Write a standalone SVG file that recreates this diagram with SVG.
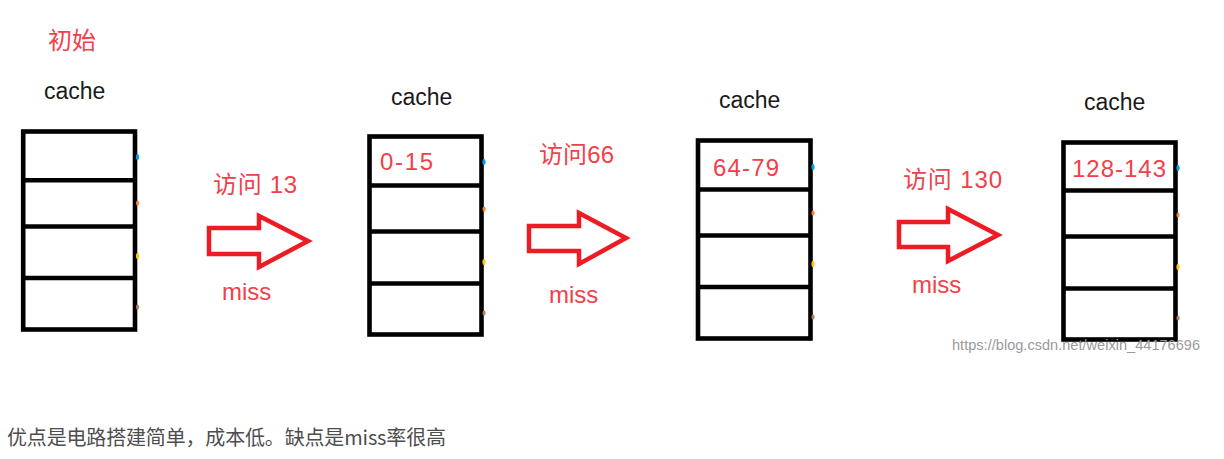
<svg xmlns="http://www.w3.org/2000/svg" width="1224" height="459" viewBox="0 0 1224 459">
<style>
.box{fill:#fff;stroke:#000;stroke-width:4.6}
.div{stroke:#000;stroke-width:4.6}
.lbl{font-family:"Liberation Sans","Noto Sans CJK SC",sans-serif;font-size:23px;fill:#1a1a1a}
.red{font-family:"Liberation Sans","Noto Sans CJK SC",sans-serif;font-size:24px;fill:#f2404a}
.arrow{fill:none;stroke:#ed1c24;stroke-width:4.5;stroke-linejoin:miter}
.wm{font-family:"Liberation Sans",sans-serif;font-size:14.5px;fill:#9a9a9a}
.note{font-family:"Noto Sans CJK SC",sans-serif;font-size:20px;fill:#4d4d4d}
</style>
<rect width="1224" height="459" fill="#fff"/>
<text class="red" x="48" y="49">初始</text>
<g id="cache1">
<text class="lbl" x="44" y="99">cache</text>
<rect class="box" x="23.2" y="131.5" width="111.8" height="198"/>
<line class="div" x1="23" y1="180.3" x2="135" y2="180.3"/>
<line class="div" x1="23" y1="226.5" x2="135" y2="226.5"/>
<line class="div" x1="23" y1="278" x2="135" y2="278"/>
<ellipse cx="137.5" cy="157" rx="1.6" ry="3" fill="#00a2e8"/>
<ellipse cx="137.5" cy="203" rx="1.6" ry="2.5" fill="#ff7f27"/>
<ellipse cx="137.5" cy="256" rx="1.6" ry="3" fill="#ffc90e"/>
<ellipse cx="137.5" cy="307" rx="1.6" ry="2.5" fill="#b97a57"/>
</g>
<g id="cache2">
<text class="lbl" x="391" y="105">cache</text>
<rect class="box" x="369.5" y="136.5" width="112" height="198"/>
<line class="div" x1="369" y1="185.5" x2="482" y2="185.5"/>
<line class="div" x1="369" y1="231.5" x2="482" y2="231.5"/>
<line class="div" x1="369" y1="283.5" x2="482" y2="283.5"/>
<text class="red" x="380" y="170" textLength="53">0-15</text>
<ellipse cx="484" cy="162" rx="1.6" ry="3" fill="#00a2e8"/>
<ellipse cx="484" cy="209" rx="1.6" ry="2.5" fill="#ff7f27"/>
<ellipse cx="484" cy="262" rx="1.6" ry="3" fill="#ffc90e"/>
<ellipse cx="484" cy="313" rx="1.6" ry="2.5" fill="#b97a57"/>
</g>
<g id="cache3">
<text class="lbl" x="719" y="108">cache</text>
<rect class="box" x="698" y="140.5" width="112.5" height="198"/>
<line class="div" x1="698" y1="189.5" x2="811" y2="189.5"/>
<line class="div" x1="698" y1="235.5" x2="811" y2="235.5"/>
<line class="div" x1="698" y1="287" x2="811" y2="287"/>
<text class="red" x="713" y="176" textLength="66">64-79</text>
<ellipse cx="813" cy="167" rx="1.6" ry="3" fill="#00a2e8"/>
<ellipse cx="813" cy="213" rx="1.6" ry="2.5" fill="#ff7f27"/>
<ellipse cx="813" cy="264" rx="1.6" ry="3" fill="#ffc90e"/>
<ellipse cx="813" cy="317" rx="1.6" ry="2.5" fill="#b97a57"/>
</g>
<g id="cache4">
<text class="lbl" x="1084" y="110">cache</text>
<rect class="box" x="1063.5" y="142.5" width="112" height="197"/>
<line class="div" x1="1063" y1="190.5" x2="1176" y2="190.5"/>
<line class="div" x1="1063" y1="236.5" x2="1176" y2="236.5"/>
<line class="div" x1="1063" y1="288.5" x2="1176" y2="288.5"/>
<text class="red" x="1072" y="177" textLength="94">128-143</text>
<ellipse cx="1178" cy="168" rx="1.6" ry="3" fill="#00a2e8"/>
<ellipse cx="1178" cy="215" rx="1.6" ry="2.5" fill="#ff7f27"/>
<ellipse cx="1178" cy="267" rx="1.6" ry="3" fill="#ffc90e"/>
<ellipse cx="1178" cy="318" rx="1.6" ry="2.5" fill="#b97a57"/>
</g>
<g id="connectors">
<g id="arrow1">
<path class="arrow" d="M209,228 L259,228 L259,216 L308,241 L259,267 L259,254 L209,254 Z"/>
<text class="red" x="213" y="193" textLength="84">访问 13</text>
<text class="red" x="222" y="300">miss</text>
</g>
<g id="arrow2">
<path class="arrow" d="M529,226 L579,226 L579,213 L626,238 L579,264 L579,251 L529,251 Z"/>
<text class="red" x="539" y="163" textLength="75">访问66</text>
<text class="red" x="549" y="303">miss</text>
</g>
<g id="arrow3">
<path class="arrow" d="M899,222 L948,222 L948,209 L998,235 L948,261 L948,247 L899,247 Z"/>
<text class="red" x="903" y="188" textLength="99">访问 130</text>
<text class="red" x="912" y="293">miss</text>
</g>
</g>
<text class="wm" x="952" y="350" textLength="248">https://blog.csdn.net/weixin_44176696</text>
<text class="note" x="7" y="445" textLength="439">优点是电路搭建简单，成本低。缺点是miss率很高</text>
</svg>
